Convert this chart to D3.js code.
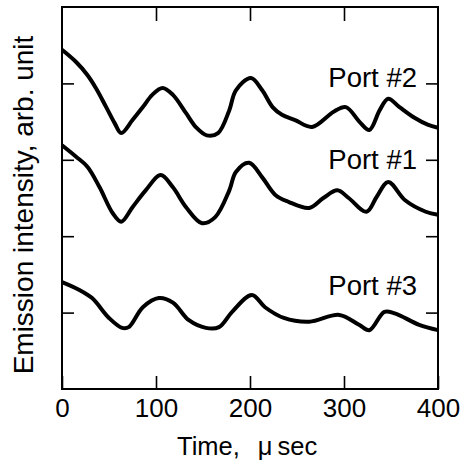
<!DOCTYPE html>
<html>
<head>
    <meta charset="utf-8" />
    <title>Emission intensity vs time</title>
    <style>
        body { margin: 0; background: #fff; }
        .trace { fill: none; stroke: #000; stroke-width: 4px; stroke-linejoin: round; }
        .axis path { display: none; }
        .axis line { stroke: #000; stroke-width: 1.6px; }
        .axis text { font-family: "Liberation Sans", Arial, sans-serif; font-size: 26px; fill: #000; }
        .label { font-family: "Liberation Sans", Arial, sans-serif; font-size: 27.5px; fill: #000; }
        .title { font-family: "Liberation Sans", Arial, sans-serif; font-size: 25.5px; fill: #000; }
    </style>
    <script src="https://cdn.jsdelivr.net/npm/d3@7/dist/d3.min.js"></script>
</head>
<body>
<script>
    // time samples (usec) and intensities (arb. unit)
    var port2Time = [0, 15, 27, 36, 47, 56, 63, 75, 86, 96, 107, 118, 132, 143, 154, 166, 178, 185, 201, 213, 224, 234, 248, 266, 289, 302, 317, 327, 338, 347, 359, 375, 389, 400];
    var port2Value = [4.44, 4.28, 4.11, 3.94, 3.69, 3.48, 3.35, 3.52, 3.69, 3.85, 3.94, 3.85, 3.61, 3.42, 3.32, 3.35, 3.65, 3.91, 4.07, 3.91, 3.69, 3.59, 3.52, 3.43, 3.63, 3.69, 3.49, 3.39, 3.65, 3.80, 3.69, 3.55, 3.46, 3.42];

    var port1Time = [0, 15, 27, 40, 54, 63, 75, 89, 105, 118, 132, 149, 163, 178, 185, 199, 213, 227, 241, 263, 278, 293, 305, 324, 335, 347, 365, 387, 400];
    var port1Value = [3.19, 3.04, 2.91, 2.64, 2.30, 2.19, 2.38, 2.60, 2.80, 2.64, 2.38, 2.17, 2.25, 2.60, 2.84, 2.96, 2.77, 2.54, 2.45, 2.37, 2.50, 2.60, 2.50, 2.32, 2.52, 2.71, 2.47, 2.32, 2.28];

    var port3Time = [0, 18, 32, 50, 64, 71, 86, 103, 118, 135, 153, 167, 181, 202, 216, 236, 263, 295, 316, 327, 343, 354, 380, 400];
    var port3Value = [1.40, 1.30, 1.19, 0.93, 0.80, 0.81, 1.07, 1.19, 1.13, 0.90, 0.80, 0.81, 1.01, 1.23, 1.07, 0.93, 0.88, 0.97, 0.84, 0.77, 1.01, 0.99, 0.84, 0.77];

    var seriesNames = ['Port #2', 'Port #1', 'Port #3'];
    var labelValue = [3.95, 2.88, 1.23];

    var xTicks = [0, 100, 200, 300, 400];
    var yTicks = [1, 2, 3, 4];

    var margin = { top: 7, right: 30, bottom: 80, left: 62 };
    var width = 468 - margin.left - margin.right,
        height = 469 - margin.top - margin.bottom;

    var x = d3.scaleLinear().domain([0, 400]).range([0, width]);
    var y = d3.scaleLinear().domain([0, 5]).range([height, 0]);

    var svg = d3.select('body')
        .append('svg')
            .attr('width', 468)
            .attr('height', 469)
        .append('g')
            .attr('transform', 'translate(' + margin.left + ',' + margin.top + ')');

    var line = d3.line()
        .curve(d3.curveCatmullRom.alpha(0.5))
        .x(function(d) { return x(d[0]); })
        .y(function(d) { return y(d[1]); });

    var series = [
        d3.zip(port2Time, port2Value),
        d3.zip(port1Time, port1Value),
        d3.zip(port3Time, port3Value)
    ];

    series.forEach(function(s) {
        svg.append('path')
            .datum(s)
            .attr('class', 'trace')
            .attr('d', line);
    });

    // frame
    svg.append('rect')
        .attr('width', width)
        .attr('height', height)
        .attr('fill', 'none')
        .attr('stroke', '#000')
        .attr('stroke-width', 2);

    // inward ticks on all four sides
    svg.append('g')
        .attr('class', 'axis')
        .attr('transform', 'translate(0,' + height + ')')
        .call(d3.axisBottom(x).tickValues(xTicks).tickSizeInner(-13).tickSizeOuter(0).tickPadding(10));

    svg.append('g')
        .attr('class', 'axis')
        .call(d3.axisTop(x).tickValues(xTicks.slice(1, -1)).tickSizeInner(-14).tickSizeOuter(0).tickFormat(''));

    svg.append('g')
        .attr('class', 'axis')
        .call(d3.axisLeft(y).tickValues(yTicks).tickSizeInner(-12).tickSizeOuter(0).tickFormat(''));

    svg.append('g')
        .attr('class', 'axis')
        .attr('transform', 'translate(' + width + ',0)')
        .call(d3.axisRight(y).tickValues(yTicks).tickSizeInner(-12).tickSizeOuter(0).tickFormat(''));

    // series labels
    svg.selectAll('.port')
        .data(seriesNames)
        .enter().append('text')
            .attr('class', 'label')
            .attr('x', width - 21)
            .attr('y', function(d, i) { return y(labelValue[i]); })
            .style('text-anchor', 'end')
            .text(function(d) { return d; });

    // x axis title
    var xt = svg.append('text')
        .attr('class', 'title')
        .attr('x', 115)
        .attr('y', height + 66);
    xt.append('tspan').text('Time,');
    xt.append('tspan').attr('dx', 18).text('\u03bc');
    xt.append('tspan').attr('dx', 5).text('sec');

    // y axis title
    svg.append('text')
        .attr('class', 'label')
        .style('font-size', '28px')
        .attr('transform', 'rotate(-90)')
        .attr('x', -198)
        .attr('y', -29)
        .style('text-anchor', 'middle')
        .text('Emission intensity, arb. unit');
</script>
</body>
</html>
